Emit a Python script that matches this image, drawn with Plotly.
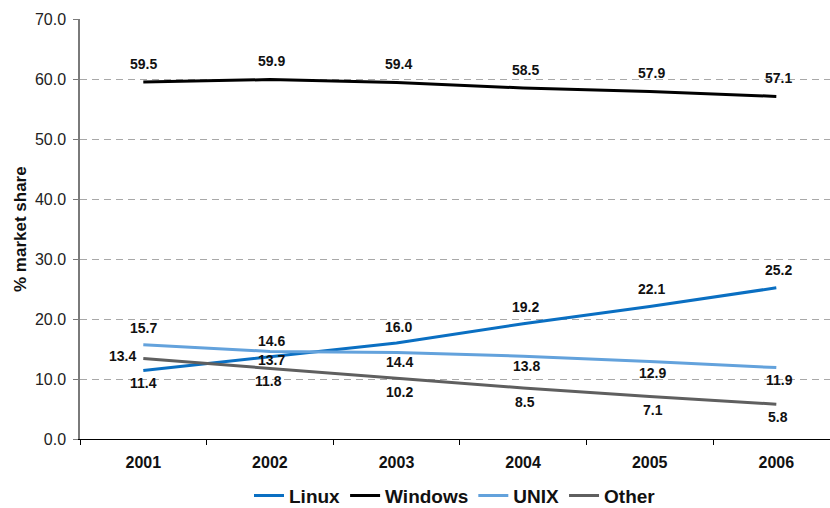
import plotly.graph_objects as go

years = ["2001", "2002", "2003", "2004", "2005", "2006"]
linux = [11.4, 13.7, 16.0, 19.2, 22.1, 25.2]
windows = [59.5, 59.9, 59.4, 58.5, 57.9, 57.1]
unix = [15.7, 14.6, 14.4, 13.8, 12.9, 11.9]
other = [13.4, 11.8, 10.2, 8.5, 7.1, 5.8]
y_ticks = [0, 10, 20, 30, 40, 50, 60, 70]

series = [
    ("Linux", linux, "#0a6fc2"),
    ("Windows", windows, "#000000"),
    ("UNIX", unix, "#63a2dc"),
    ("Other", other, "#5f5f5f"),
]

# label offsets (px) for each series' data labels
label_yshift = {
    "Linux": [-12.5, -3, 16, 17, 17, 18],
    "Windows": [18.5, 18.5, 18.5, 18.5, 18.5, 18.5],
    "UNIX": [17, 10, -9, -9.5, -11, -12],
    "Other": [3, -12.5, -14, -13.7, -13.6, -12.5],
}
label_xshift = {
    "Linux": [0, 2, 2, 2, 2, 2],
    "Windows": [0, 2, 2, 2, 2, 2],
    "UNIX": [0, 2, 3, 3, 3, 3],
    "Other": [-21, -1, 3, 2, 3, 2],
}

FONT = "Liberation Sans, Arial, sans-serif"

fig = go.Figure()
annotations = []
for name, vals, color in series:
    fig.add_trace(go.Scatter(
        x=years, y=vals, name=name, mode="lines",
        line=dict(color=color, width=3),
    ))
    for i, v in enumerate(vals):
        annotations.append(dict(
            x=i, y=v, xref="x", yref="y", text=f"<b>{v:.1f}</b>",
            showarrow=False, xanchor="center", yanchor="middle",
            yshift=label_yshift[name][i], xshift=label_xshift[name][i],
            font=dict(family=FONT, size=14, color="#111111"),
        ))

annotations.append(dict(
    x=-0.08, y=0.5, xref="paper", yref="paper", text="<b>% market share</b>",
    textangle=-90, showarrow=False, xanchor="center", yanchor="middle",
    font=dict(family=FONT, size=17, color="#111111"),
))

fig.update_layout(
    width=830, height=508,
    margin=dict(l=80, r=0, t=19, b=69, autoexpand=False),
    paper_bgcolor="white", plot_bgcolor="white",
    font=dict(family=FONT, color="#111111"),
    showlegend=True,
    legend=dict(
        orientation="h", x=0.5, xanchor="center", y=-0.135, yanchor="middle",
        font=dict(family=FONT, size=19, color="#111111", weight="bold"),
        itemwidth=30, tracegroupgap=0,
    ),
    annotations=annotations,
)

fig.update_xaxes(
    type="category", range=[-0.5, 5.424], automargin=False,
    showline=True, linecolor="#000000", linewidth=1.2,
    ticks="outside", tickson="boundaries", ticklen=5, tickcolor="#000000",
    showgrid=False, zeroline=False,
    tickfont=dict(family=FONT, size=16, color="#111111", weight="bold"),
    ticklabelstandoff=9,
)
fig.update_yaxes(
    range=[0, 70], tickvals=y_ticks, ticktext=[f"{t:.1f}" for t in y_ticks],
    automargin=False,
    showline=True, linecolor="#7a7a7a", linewidth=1.5,
    ticks="outside", ticklen=5, tickcolor="#7a7a7a",
    showgrid=True, gridcolor="#a8a8a8", gridwidth=1, griddash="7px,5px",
    zeroline=False,
    tickfont=dict(family=FONT, size=16, color="#222222"),
    ticklabelstandoff=4,
)

fig.write_html(
    "out.html",
    config={"displayModeBar": False},
    post_script="document.body.style.margin='0';document.body.style.overflow='hidden';",
)
